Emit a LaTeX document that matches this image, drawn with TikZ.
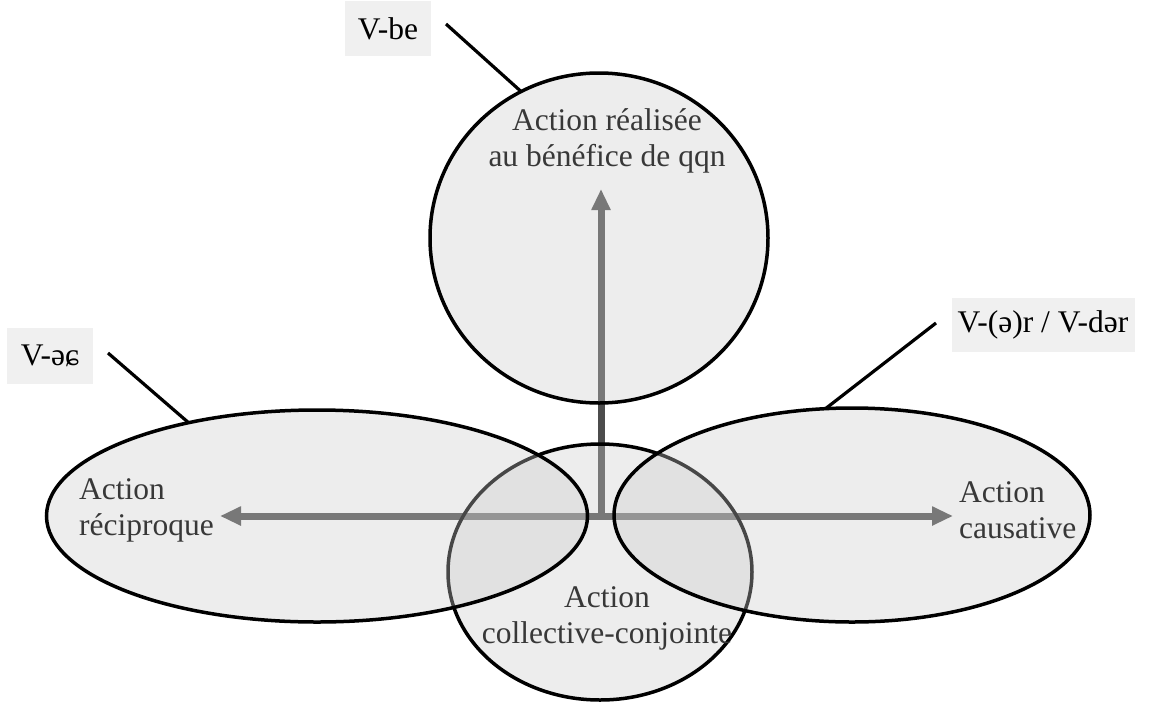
\documentclass[tikz,border=0pt]{standalone}
\usepackage{fontspec}
\setmainfont{Liberation Serif}
\usetikzlibrary{shapes.geometric,arrows.meta}
\begin{document}
\begin{tikzpicture}[x=1pt,y=-1pt,
  region/.style={ellipse,draw=black,line width=3.5pt,fill=black!20,fill opacity=0.35,draw opacity=1,inner sep=0pt,outer sep=0pt},
  lbl/.style={text=black!78,font=\fontsize{31.5}{36}\selectfont,align=center,inner sep=0pt},
  tag/.style={fill=black!6,font=\fontsize{31.5}{36}\selectfont,inner sep=0pt},
  axis/.style={line width=7pt,draw=black!70},
  leader/.style={line width=3.2pt,draw=black}]
\useasboundingbox (0,0) rectangle (1152,702);
\fill[white] (0,0) rectangle (1152,702);
% axes
\coordinate (o) at (601,516);
\coordinate (tl) at (220,516);
\coordinate (tr) at (953,516);
\coordinate (tu) at (601,189);
\draw[axis,-{Triangle[width=18pt,length=21pt]}] (o) -- (tl);
\draw[axis,-{Triangle[width=18pt,length=21pt]}] (o) -- (tr);
\draw[axis,-{Triangle[width=18pt,length=21pt]}] (o) -- (tu);
% regions
\node[region, minimum width=304pt, minimum height=256pt] (bot) at (600,572) {};
\node[region, minimum width=338pt, minimum height=330pt] (top) at (599,238) {};
\node[region, minimum width=541pt, minimum height=212pt] (left) at (317,516) {};
\node[region, minimum width=476pt, minimum height=214pt] (right) at (852,515) {};
% texts
\node[lbl] (tTop) at (607,141) {Action réalisée\\au bénéfice de qqn};
\node[lbl, align=left, anchor=west] (tLeft) at (79,510) {Action\\réciproque};
\node[lbl, align=left, anchor=west] (tRight) at (959,510) {Action\\causative};
\node[lbl] (tBot) at (607,618) {Action\\collective-conjointe};
% tags
\node[tag, minimum width=86pt, minimum height=55pt] (vbe) at (388,28.5) {V-be};
\node[tag, minimum width=86pt, minimum height=56pt] (vec) at (50,356) {V-əɕ};
\node[tag, minimum width=183pt, minimum height=54pt] (vr) at (1043,325) {V-(ə)r / V-dər};
% leaders
\coordinate (lbe) at (446,24);
\coordinate (lec) at (108,353);
\coordinate (lr) at (936,323);
\draw[leader] (lbe) -- (top.118);
\draw[leader] (lec) -- (left.144);
\draw[leader] (lr) -- (right.104);
\end{tikzpicture}
\end{document}
